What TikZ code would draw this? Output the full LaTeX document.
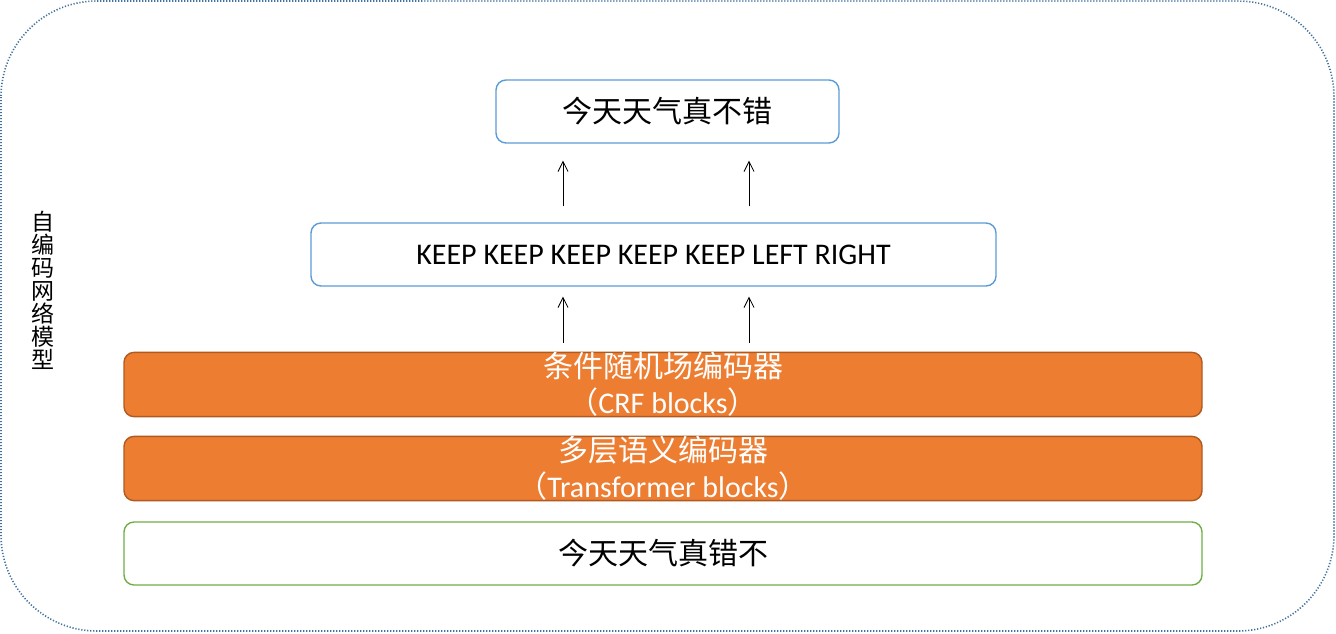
\documentclass[tikz,border=0pt]{standalone}
\usepackage{fontspec}
\setmainfont{Carlito}
\newfontfamily\cjk{Noto Sans CJK SC}
\usetikzlibrary{arrows.meta}

\definecolor{frameblue}{HTML}{41719C}
\definecolor{boxblue}{HTML}{5B9BD5}
\definecolor{boxorange}{HTML}{ED7D31}
\definecolor{edgeorange}{HTML}{AE5A21}
\definecolor{boxgreen}{HTML}{70AD47}

\tikzset{
  box/.style={draw, rounded corners=5pt, line width=0.7pt, inner sep=0pt,
    align=center, font=\fontsize{15}{18}\selectfont},
  bluebox/.style={box, draw=boxblue},
  encbox/.style={box, draw=edgeorange, fill=boxorange, text=white,
    minimum width=539pt, minimum height=31.5pt},
  inbox/.style={box, draw=boxgreen, minimum width=539pt, minimum height=31.5pt},
  uparr/.style={-{Straight Barb[length=5pt,width=5pt]}, line width=0.4pt}
}

\begin{document}
\begin{tikzpicture}[x=0.5pt,y=-0.5pt]

\useasboundingbox (0,0) rectangle (1336,633);
\draw[frameblue, line width=0.8pt, dash pattern=on 0.6pt off 0.9pt, rounded corners=48pt] (1,1) rectangle (1334,631);

\node[bluebox, minimum width=171.5pt, minimum height=31.5pt] (top) at (667.5,111.5) {\cjk 今天天气真不错};
\node[bluebox, minimum width=342.5pt, minimum height=31.5pt] (keep) at (653.5,254.5) {KEEP KEEP KEEP KEEP KEEP LEFT RIGHT};
\node[encbox] (crf) at (663,384.5) {\cjk 条件随机场编码器\\{\cjk （}CRF blocks{\cjk ）}};
\node[encbox] (trf) at (663,468.5) {\cjk 多层语义编码器\\{\cjk （}Transformer blocks{\cjk ）}};
\node[inbox] (inp) at (663,553.5) {\cjk 今天天气真错不};

\node[align=center, inner sep=0pt, font=\cjk\fontsize{11.5}{11.5}\selectfont] (lbl) at (43,290)
  {自\\编\\码\\网\\络\\模\\型};

\coordinate (a1) at (563,0);
\coordinate (a2) at (749,0);

\draw[uparr, shorten <=8pt, shorten >=8.5pt] (keep.north -| a1) -- (top.south -| a1);
\draw[uparr, shorten <=8pt, shorten >=8.5pt] (keep.north -| a2) -- (top.south -| a2);
\draw[uparr, shorten <=4.5pt, shorten >=5pt] (crf.north -| a1) -- (keep.south -| a1);
\draw[uparr, shorten <=4.5pt, shorten >=5pt] (crf.north -| a2) -- (keep.south -| a2);

\end{tikzpicture}
\end{document}
